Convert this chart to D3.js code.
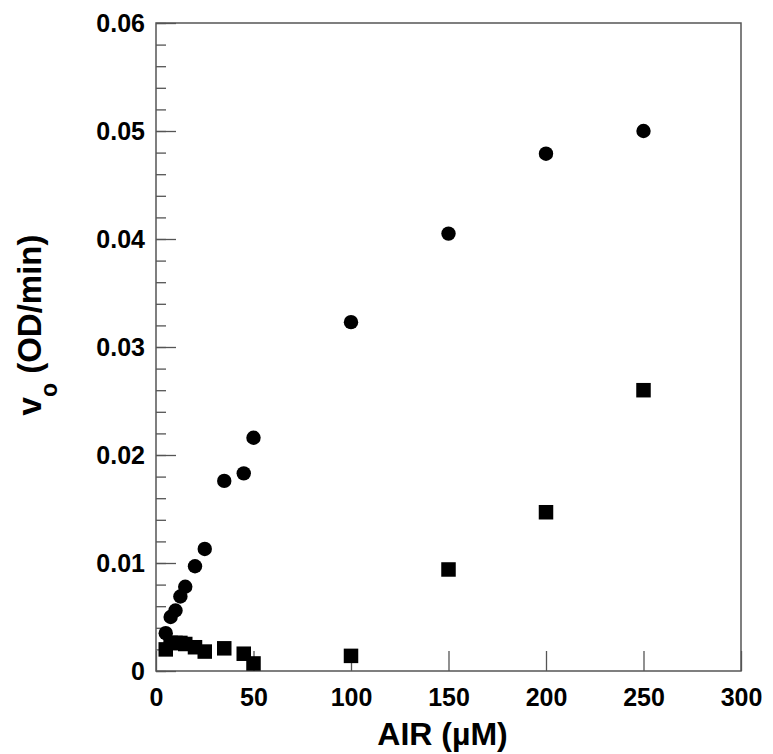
<!DOCTYPE html>
<html>
<head>
<meta charset="utf-8">
<script src="https://cdn.jsdelivr.net/npm/d3@7"></script>
<style>
  body { margin: 0; background: #fff; }
  svg { display: block; font-family: "Liberation Sans", Arial, sans-serif; font-weight: bold; }
</style>
</head>
<body>
<svg></svg>
<script>
const width = 773;
const height = 754;
const margin = {top: 23, right: 32, bottom: 83, left: 156};

// AIR concentrations (uM)
const airConc = [5, 7.5, 10, 12.5, 15, 20, 25, 35, 45, 50, 100, 150, 200, 250];
// initial rates, circles
const rateCircles = [0.0035, 0.0050, 0.0056, 0.0069, 0.0078, 0.0097, 0.0113, 0.0176, 0.0183, 0.0216, 0.0323, 0.0405, 0.0479, 0.0500];
// initial rates, squares
const rateSquares = [0.0020, 0.0026, 0.0026, 0.0026, 0.0025, 0.0022, 0.0018, 0.0021, 0.0016, 0.0007, 0.0014, 0.0094, 0.0147, 0.0260];

const xTicks = [0, 50, 100, 150, 200, 250, 300];
const yTicks = [0, 0.01, 0.02, 0.03, 0.04, 0.05, 0.06];
const yMinor = d3.range(0, 0.0601, 0.002);

const svg = d3.select('svg').attr('width', width).attr('height', height);
const iw = width - margin.left - margin.right;
const ih = height - margin.top - margin.bottom;
const g = svg.append('g').attr('transform', `translate(${margin.left}, ${margin.top})`);

const x = d3.scaleLinear().domain([0, 300]).range([0, iw]);
const y = d3.scaleLinear().domain([0, 0.06]).range([ih, 0]);

const axisColor = '#555';

// minor y ticks
g.append('g').attr('class', 'minor')
    .call(d3.axisLeft(y).tickValues(yMinor).tickSize(-10).tickFormat(''));

// major y ticks with labels
g.append('g').attr('class', 'major')
    .call(d3.axisLeft(y).tickValues(yTicks).tickSize(-20).tickPadding(11)
        .tickFormat(d => d === 0 ? '0' : d3.format('.2f')(d)));

// x ticks
g.append('g').attr('class', 'major')
    .attr('transform', `translate(0, ${ih})`)
    .call(d3.axisBottom(x).tickValues(xTicks).tickSize(-20).tickPadding(17));

g.selectAll('.domain').remove();
g.selectAll('.tick line').attr('stroke', axisColor).attr('stroke-width', 1.3);
g.selectAll('.tick text')
    .attr('font-size', 25).attr('font-weight', 'bold').attr('fill', '#000')
    .attr('font-family', '"Liberation Sans", Arial, sans-serif');

// frame
g.append('rect')
    .attr('width', iw).attr('height', ih)
    .attr('fill', 'none').attr('stroke', axisColor).attr('stroke-width', 1.5);

// circles
g.append('g').selectAll('circle').data(airConc)
    .enter().append('circle')
    .attr('cx', d => x(d))
    .attr('cy', (d, i) => y(rateCircles[i]))
    .attr('r', 7.2)
    .attr('fill', '#000');

// squares
const s = 14.5;
g.append('g').selectAll('rect.sq').data(airConc)
    .enter().append('rect')
    .attr('class', 'sq')
    .attr('x', d => x(d) - s / 2)
    .attr('y', (d, i) => y(rateSquares[i]) - s / 2)
    .attr('width', s).attr('height', s)
    .attr('fill', '#000');

// axis titles
svg.append('text')
    .attr('x', margin.left + iw / 2 - 6)
    .attr('y', 745)
    .attr('text-anchor', 'middle')
    .attr('font-size', 32)
    .text('AIR (\u00b5M)');

const yt = svg.append('text')
    .attr('transform', `translate(41, 325) rotate(-90)`)
    .attr('text-anchor', 'middle')
    .attr('font-size', 33);
yt.append('tspan').text('v');
yt.append('tspan').attr('font-size', 23).attr('dy', 16).text('o');
yt.append('tspan').attr('dy', -16).text(' (OD/min)');
</script>
</body>
</html>
